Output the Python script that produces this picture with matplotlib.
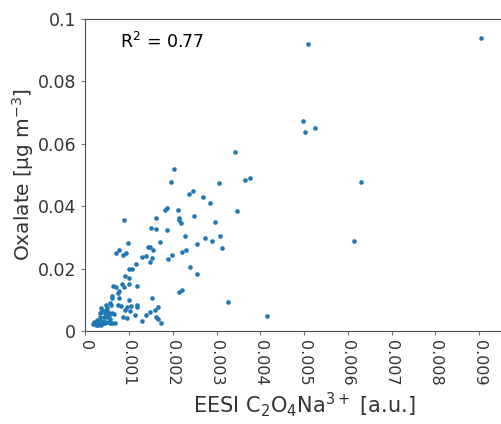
import matplotlib
matplotlib.use('Agg')
import matplotlib.pyplot as plt
import numpy as np

# EESI signal [a.u.] vs oxalate [ug m-3]
eesi = [9.04e-3, 5.09e-3, 4.97e-3, 5.01e-3, 5.24e-3, 3.43e-3, 6.29e-3, 6.13e-3,
        4.15e-3, 3.26e-3, 2.02e-3, 1.95e-3, 3.06e-3, 3.65e-3, 3.76e-3, 3.46e-3,
        2.36e-3, 2.47e-3, 2.70e-3, 2.85e-3, 1.82e-3, 1.88e-3, 2.11e-3, 0.88e-3,
        1.62e-3, 2.14e-3, 2.15e-3, 2.18e-3, 2.49e-3, 2.96e-3, 1.50e-3, 1.62e-3,
        1.86e-3, 2.27e-3, 2.74e-3, 2.89e-3, 3.07e-3, 3.13e-3, 2.56e-3, 1.72e-3,
        0.98e-3, 0.77e-3, 0.70e-3, 0.86e-3, 0.93e-3, 1.44e-3, 1.49e-3, 1.56e-3,
        1.30e-3, 1.40e-3, 1.52e-3, 1.48e-3, 1.90e-3, 1.99e-3, 2.21e-3, 2.31e-3,
        2.40e-3, 2.56e-3, 2.15e-3, 2.22e-3, 1.15e-3, 1.01e-3, 1.07e-3, 0.90e-3,
        1.00e-3, 0.84e-3, 0.88e-3, 0.99e-3, 1.19e-3, 0.64e-3, 0.70e-3, 0.77e-3,
        0.75e-3, 0.62e-3, 0.78e-3, 0.61e-3, 1.00e-3, 1.53e-3, 0.57e-3, 0.59e-3,
        0.48e-3, 0.75e-3, 0.81e-3, 1.04e-3, 1.18e-3, 1.19e-3, 0.92e-3, 0.96e-3,
        1.03e-3, 1.67e-3, 1.60e-3, 1.49e-3, 1.38e-3, 1.13e-3, 0.86e-3, 0.96e-3,
        1.62e-3, 1.66e-3, 1.30e-3, 1.74e-3, 0.68e-3, 0.62e-3,
        0.36e-3, 0.40e-3, 0.34e-3, 0.46e-3, 0.53e-3, 0.61e-3, 0.66e-3, 0.33e-3,
        0.42e-3, 0.49e-3, 0.57e-3, 0.27e-3, 0.34e-3, 0.43e-3, 0.51e-3, 0.23e-3,
        0.28e-3, 0.34e-3, 0.40e-3, 0.19e-3, 0.24e-3, 0.30e-3, 0.37e-3, 0.46e-3,
        0.56e-3, 0.21e-3, 0.48e-3, 0.37e-3, 0.49e-3, 0.54e-3]
oxalate = [0.0939, 0.0918, 0.0672, 0.0638, 0.0651, 0.0573, 0.0477, 0.0289,
           0.0047, 0.0093, 0.0520, 0.0476, 0.0475, 0.0483, 0.0490, 0.0384,
           0.0440, 0.0447, 0.0430, 0.0409, 0.0388, 0.0393, 0.0387, 0.0357,
           0.0361, 0.0361, 0.0355, 0.0345, 0.0367, 0.0349, 0.0329, 0.0327,
           0.0325, 0.0304, 0.0299, 0.0289, 0.0304, 0.0266, 0.0278, 0.0286,
           0.0281, 0.0261, 0.0249, 0.0244, 0.0249, 0.0269, 0.0268, 0.0261,
           0.0236, 0.0239, 0.0234, 0.0222, 0.0232, 0.0244, 0.0253, 0.0259,
           0.0206, 0.0182, 0.0126, 0.0132, 0.0216, 0.0200, 0.0200, 0.0176,
           0.0171, 0.0150, 0.0142, 0.0150, 0.0144, 0.0144, 0.0142, 0.0127,
           0.0121, 0.0114, 0.0105, 0.0107, 0.0101, 0.0105, 0.0089, 0.0083,
           0.0083, 0.0083, 0.0082, 0.0082, 0.0083, 0.0076, 0.0069, 0.0076,
           0.0064, 0.0078, 0.0067, 0.0061, 0.0051, 0.0053, 0.0046, 0.0042,
           0.0046, 0.0038, 0.0032, 0.0026, 0.0027, 0.0026,
           0.0073, 0.0065, 0.0057, 0.0057, 0.0062, 0.0057, 0.0054, 0.0046,
           0.0046, 0.0044, 0.0040, 0.0037, 0.0035, 0.0033, 0.0030, 0.0027,
           0.0025, 0.0027, 0.0025, 0.0022, 0.0019, 0.0019, 0.0019, 0.0025,
           0.0027, 0.0030, 0.0067, 0.0062, 0.0073, 0.0051]

xticks = [0, 0.001, 0.002, 0.003, 0.004, 0.005, 0.006, 0.007, 0.008, 0.009]
xticklabels = ['0', '0.001', '0.002', '0.003', '0.004', '0.005', '0.006',
               '0.007', '0.008', '0.009']
yticks = [0, 0.02, 0.04, 0.06, 0.08, 0.1]
yticklabels = ['0', '0.02', '0.04', '0.06', '0.08', '0.1']

txt = '#333333'
fig = plt.figure(figsize=(5.01, 4.24), dpi=100)
# axes run past the right edge, like the cut-off original
ax = fig.add_axes([0.17, 0.219, 0.874, 0.737])
ax.scatter(eesi, oxalate, s=11, color='#1f77b4', linewidths=0)

ax.set_xlim(0, 0.01)
ax.set_ylim(0, 0.1)
ax.set_xticks(xticks)
ax.set_xticklabels(xticklabels, rotation=-90, fontsize=11.5, color=txt)
ax.set_yticks(yticks)
ax.set_yticklabels(yticklabels, fontsize=12.5, color=txt)
ax.tick_params(length=3, color='0.45')
for sp in ax.spines.values():
    sp.set_color('0.3')

ax.set_xlabel('EESI C$_2$O$_4$Na$^{3+}$ [a.u.]', fontsize=15, color=txt, labelpad=3)
ax.set_ylabel('Oxalate [µg m$^{-3}$]', fontsize=14.5, color=txt, labelpad=1)
ax.text(0.08, 0.925, 'R$^2$ = 0.77', transform=ax.transAxes, fontsize=12.5,
        va='center', ha='left', color='black')

fig.savefig('out.png', dpi=100)
